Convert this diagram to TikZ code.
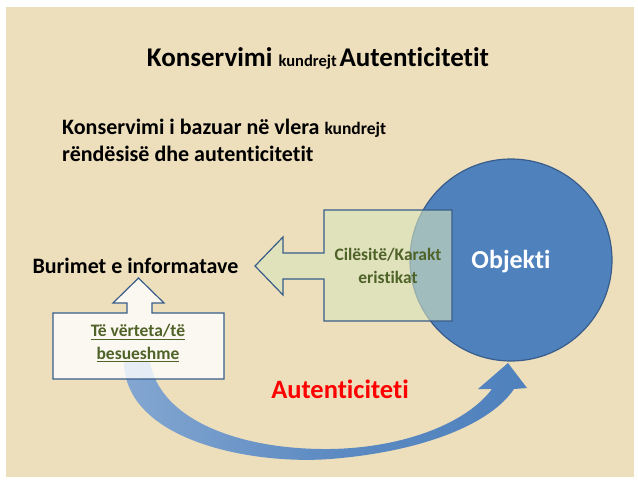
\documentclass[tikz,border=0pt]{standalone}
\usepackage{fontspec}
\setmainfont{Carlito}[Ligatures=NoCommon]
\usetikzlibrary{shadings}
\definecolor{bg}{HTML}{EEDFBC}
\definecolor{objblue}{HTML}{4F81BD}
\definecolor{edgeblue}{HTML}{385D8A}
\definecolor{lgreen}{HTML}{D7E4BD}
\definecolor{olive}{HTML}{4F6228}
\tikzset{
  shapeline/.style={draw=edgeblue, line width=1.2pt},
  boldtext/.style={font=\bfseries, inner sep=0pt},
}
\begin{document}
\begin{tikzpicture}[x=1pt,y=-1pt]
\useasboundingbox (0,0) rectangle (638,480);
\fill[white] (0,0) rectangle (638,480);
\fill[bg] (6,7) rectangle (634,477);
% title
\node[boldtext, anchor=base] (title) at (318,66) {\fontsize{27}{30}\selectfont Konservimi \fontsize{16.5}{18}\selectfont kundrejt\,\fontsize{27}{30}\selectfont Autenticitetit};
\node[boldtext, anchor=base west] (sub1) at (62,134) {\fontsize{22}{26}\selectfont Konservimi i bazuar në vlera \fontsize{17.5}{20}\selectfont kundrejt};
\node[boldtext, anchor=base west] (sub2) at (62,161) {\fontsize{22}{26}\selectfont rëndësisë dhe autenticitetit};
% circle
\node[circle, fill=objblue, draw=edgeblue, line width=1.2pt, minimum size=202pt, inner sep=0pt] (obj) at (511,260) {};
\node[boldtext, text=white] (objt) at (511,262) {\fontsize{26}{30}\selectfont Objekti};
% green arrow
\filldraw[shapeline, fill=lgreen, fill opacity=0.6] (324,210) -- (452,210) -- (452,321) -- (324,321) -- (324,279) -- (283,279) -- (283,295) -- (255,266) -- (283,237) -- (283,253) -- (324,253) -- cycle;
\node[boldtext, text=olive, align=center, font=\bfseries\fontsize{17.5}{23}\selectfont] (cil) at (388,266) {Cilësitë/Karakt\\eristikat};
% curved arrow
\shade[left color=objblue!70!white, right color=objblue, middle color=objblue!92!white]
  (124,362) .. controls (125,440) and (250,465) .. (330,459)
  .. controls (420,452) and (490,425) .. (514,389)
  -- (527,388) -- (508,363) -- (478,389) -- (492,389)
  .. controls (465,425) and (400,448) .. (330,449)
  .. controls (240,450) and (160,420) .. (150,362) -- cycle;
% up arrow box
\filldraw[shapeline, fill=white, fill opacity=0.8] (53,313) -- (127,313) -- (127,303) -- (113,303) -- (138.5,278) -- (164,303) -- (152,303) -- (152,313) -- (224,313) -- (224,379) -- (53,379) -- cycle;
\node[boldtext, text=olive, align=center, font=\bfseries\fontsize{17.5}{23}\selectfont] (ver) at (138,343) {\underline{Të vërteta/të}\\\underline{besueshme}};
\node[boldtext] (bur) at (135.5,266) {\fontsize{22}{26}\selectfont Burimet e informatave};
\node[boldtext, text=red] (aut) at (340,389) {\fontsize{26.5}{30}\selectfont Autenticiteti};
\end{tikzpicture}
\end{document}
